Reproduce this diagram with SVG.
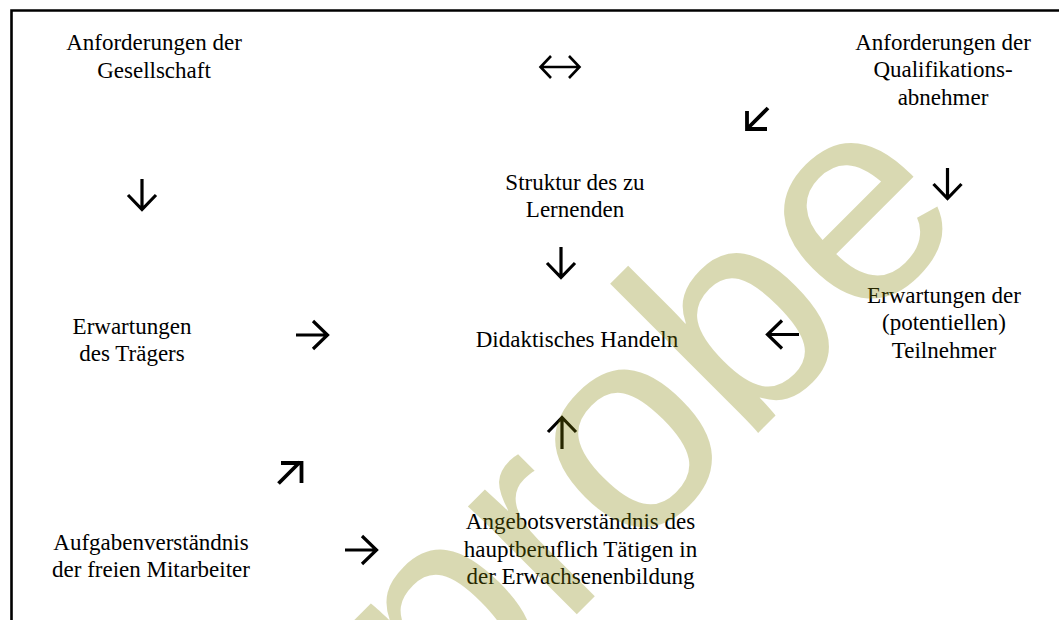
<svg xmlns="http://www.w3.org/2000/svg" width="1059" height="620" viewBox="0 0 1059 620">
  <style>
    .lbl { font-family: "Liberation Serif", "Times New Roman", serif; font-size: 23px; fill: #000; text-anchor: middle; }
    .arr { fill: none; stroke: #000; stroke-width: 3.2; stroke-linecap: butt; stroke-linejoin: miter; }
    .arr-thin { stroke-width: 2.6; }
    .arr-thick { stroke-width: 3.8; }
    .wm { font-family: "Liberation Sans", Arial, sans-serif; font-size: 290px; fill: #808000; fill-opacity: 0.3; text-anchor: end; }
  </style>
  <rect x="0" y="0" width="1059" height="620" fill="#fff"/>
  <path d="M11.5,620 V10.5 H1059" fill="none" stroke="#000" stroke-width="2.6"/>

  <g id="n-gesellschaft">
    <text class="lbl" x="154" y="49.5">Anforderungen der</text>
    <text class="lbl" x="154" y="77.5">Gesellschaft</text>
  </g>
  <g id="n-qualifikationsabnehmer">
    <text class="lbl" x="943" y="49.5">Anforderungen der</text>
    <text class="lbl" x="943" y="77">Qualifikations-</text>
    <text class="lbl" x="943" y="104.5">abnehmer</text>
  </g>
  <g id="n-struktur">
    <text class="lbl" x="575" y="189.5">Struktur des zu</text>
    <text class="lbl" x="575" y="217">Lernenden</text>
  </g>
  <g id="n-didaktisches">
    <text class="lbl" x="577" y="346.5">Didaktisches Handeln</text>
  </g>
  <g id="n-traeger">
    <text class="lbl" x="132" y="334">Erwartungen</text>
    <text class="lbl" x="132" y="361">des Trägers</text>
  </g>
  <g id="n-teilnehmer">
    <text class="lbl" x="944" y="302.5">Erwartungen der</text>
    <text class="lbl" x="944" y="330">(potentiellen)</text>
    <text class="lbl" x="944" y="357.5">Teilnehmer</text>
  </g>
  <g id="n-mitarbeiter">
    <text class="lbl" x="151" y="549.5">Aufgabenverständnis</text>
    <text class="lbl" x="151" y="577">der freien Mitarbeiter</text>
  </g>
  <g id="n-hauptberuflich">
    <text class="lbl" x="580.5" y="529">Angebotsverständnis des</text>
    <text class="lbl" x="580.5" y="556.5">hauptberuflich Tätigen in</text>
    <text class="lbl" x="580.5" y="583.5">der Erwachsenenbildung</text>
  </g>

  <g id="connectors">
    <!-- double arrow between the two Anforderungen -->
    <path class="arr arr-thin" d="M541,67 H579 M551,56 L540.5,67 L551,78 M569,56 L579.5,67 L569,78"/>
    <!-- diagonal down-left -->
    <path class="arr arr-thick" d="M768,108 L747.5,128.5 M747,111 V129 H767"/>
    <!-- left down -->
    <path class="arr" d="M142,179 V209 M128,195 L142,209.5 L156,195"/>
    <!-- right down -->
    <path class="arr" d="M947.5,168 V198 M933.5,184 L947.5,198.5 L961.5,184"/>
    <!-- center down -->
    <path class="arr" d="M561,247 V277 M547,263 L561,277.5 L575,263"/>
    <!-- up into Didaktisches Handeln -->
    <path class="arr" d="M562,449 V418 M548,432 L562,417.5 L576,432"/>
    <!-- right arrow from Traeger -->
    <path class="arr" d="M296,335 H327 M313,321 L327.5,335 L313,349"/>
    <!-- left arrow from Teilnehmer -->
    <path class="arr" d="M799,334.5 H768 M782,320.5 L767.5,334.5 L782,348.5"/>
    <!-- lower right arrow from Mitarbeiter -->
    <path class="arr" d="M345,550 H376 M362,536 L376.5,550 L362,564"/>
    <!-- diagonal up-right -->
    <path class="arr arr-thick" d="M278.5,483.5 L300,462 M281,463 H301.5 V483"/>
  </g>

  <text class="wm" x="973" y="218" transform="rotate(-45 973 218)">probe</text>
</svg>
